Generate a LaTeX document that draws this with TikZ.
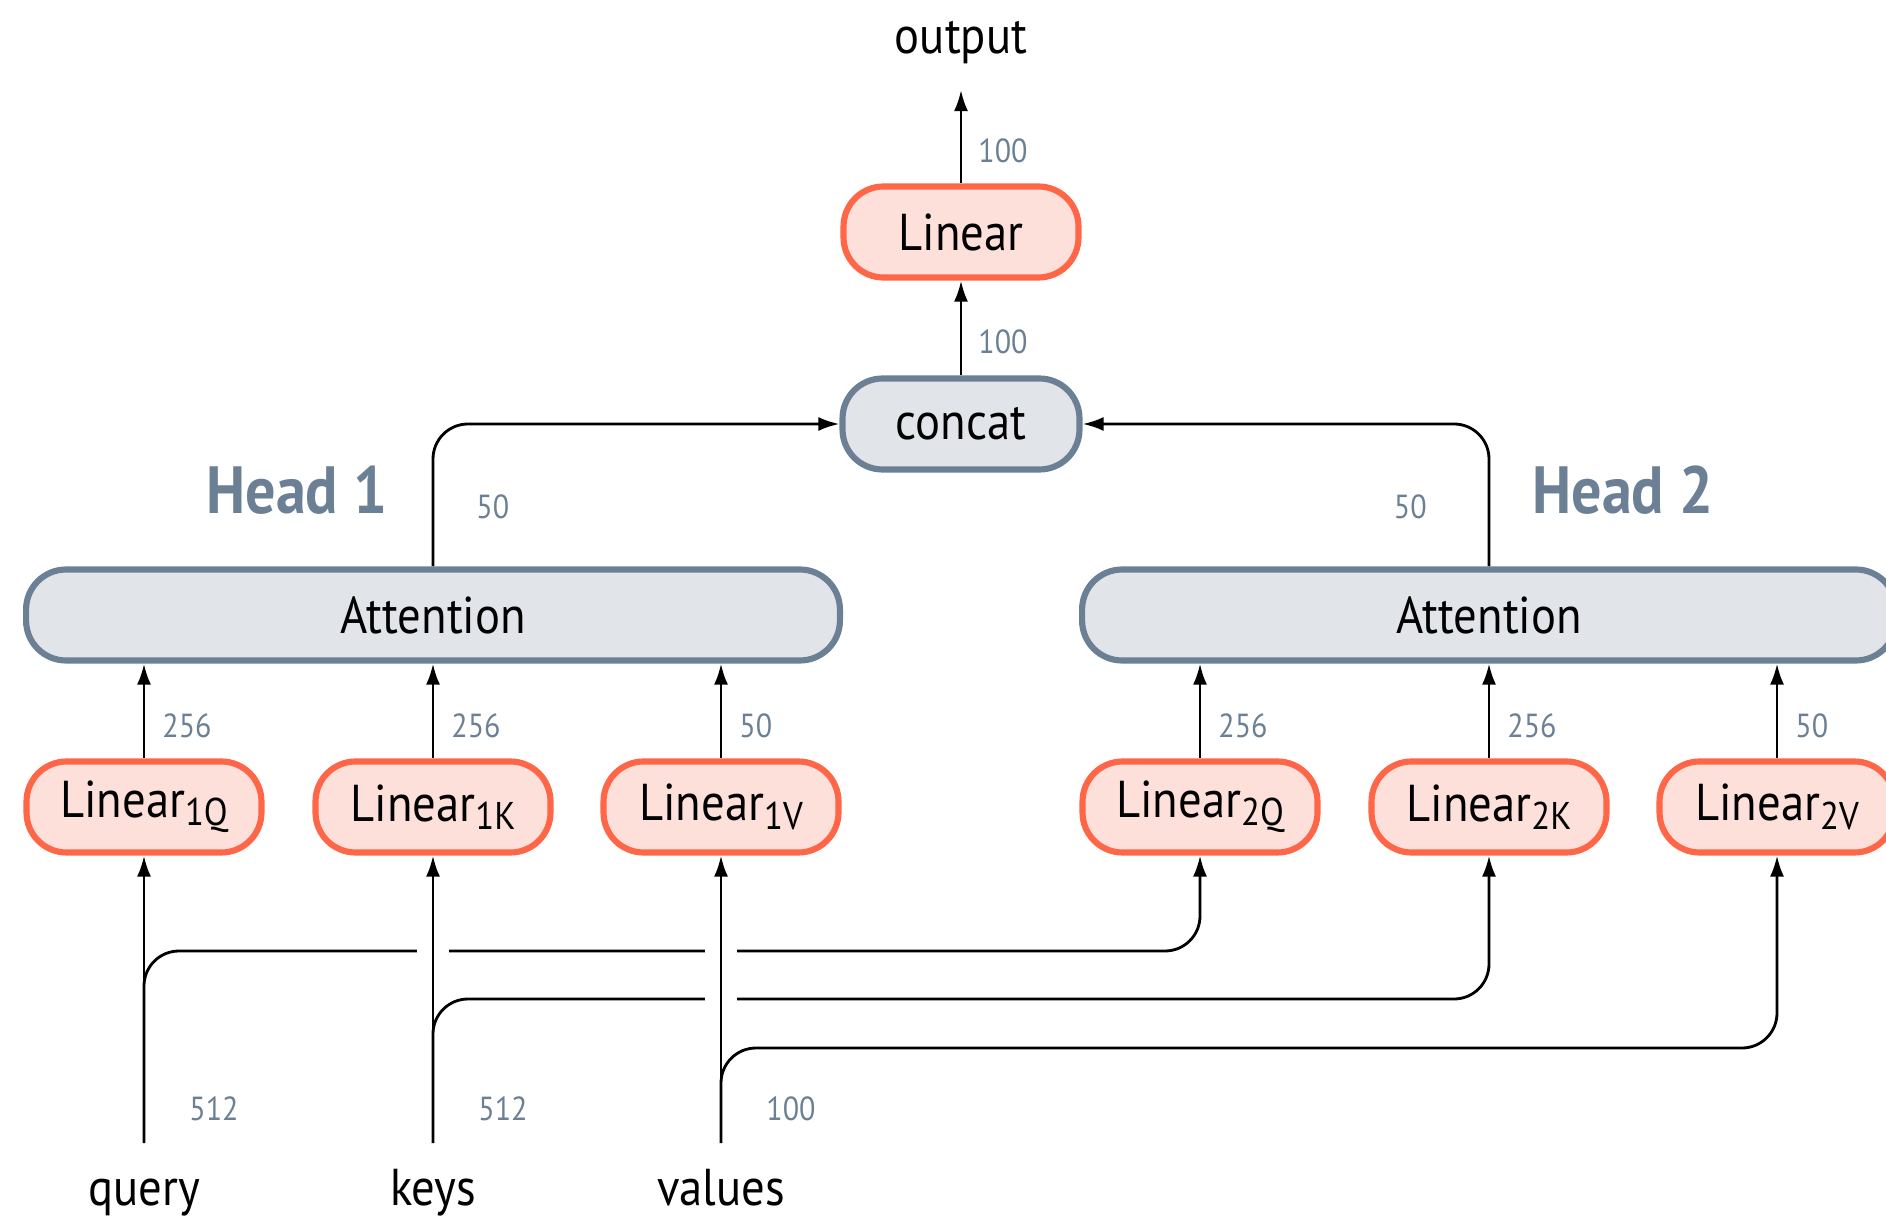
\documentclass[tikz,border=0pt]{standalone}
\usepackage{fontspec}
\setmainfont[FakeStretch=0.9]{PT Sans}
\usetikzlibrary{arrows.meta}
\usetikzlibrary{backgrounds}

\definecolor{lincol}{RGB}{255,102,72}
\definecolor{linfill}{RGB}{253,224,217}
\definecolor{slate}{RGB}{107,128,148}
\definecolor{attfill}{RGB}{225,229,234}

\newcommand{\lsub}[1]{\raisebox{-0.16em}{\fontsize{22}{22}\selectfont #1}}

\begin{document}
\begin{tikzpicture}[x=0.02cm,y=-0.02cm,
>={Latex[length=12pt,width=8pt]},
every node/.style={font=\fontsize{29.5}{30}\selectfont},
dimtxt/.style={text=slate,font=\fontsize{19}{20}\selectfont,inner sep=0pt},
headtxt/.style={text=slate,font=\fontsize{38}{40}\selectfont\bfseries}]
\tikzstyle{lin} = [draw=lincol, fill=linfill, line width=3.5pt, rounded corners=0.8cm, minimum width=4.7cm, minimum height=1.82cm, inner sep=0pt]
\tikzstyle{att} = [draw=slate, fill=attfill, line width=3.5pt, rounded corners=0.8cm, minimum width=16.28cm, minimum height=1.82cm, inner sep=0pt]
\tikzstyle{wire} = [line width=1.6pt, rounded corners=0.7cm]
\tikzstyle{hop} = [preaction={draw=white,line width=18pt,-}]

\useasboundingbox (0,0) rectangle (1886,1222);

% top part
\node[anchor=base](output) at (961,54){output};
\coordinate(outtip) at (961,90);
\node[lin](lin) at (961,232){Linear};
\node[att,minimum width=4.74cm](concat) at (961,424){concat};

\node[headtxt](head1) at (297,490){Head 1};
\node[headtxt](head2) at (1623,490){Head 2};

\node[att](att1) at (433,615){Attention};
\node[att](att2) at (1489,615){Attention};

% linear layers of both heads
\node[lin](l1q) at (144,807){Linear\lsub{1Q}};
\node[lin](l1k) at (433,807){Linear\lsub{1K}};
\node[lin](l1v) at (721,807){Linear\lsub{1V}};
\node[lin](l2q) at (1200,807){Linear\lsub{2Q}};
\node[lin](l2k) at (1489,807){Linear\lsub{2K}};
\node[lin](l2v) at (1777,807){Linear\lsub{2V}};

% inputs
\node[anchor=base](query) at (144,1205){query};
\node[anchor=base](keys) at (433,1205){keys};
\node[anchor=base](values) at (721,1205){values};
\coordinate(q0) at (144,1143);
\coordinate(k0) at (433,1143);
\coordinate(v0) at (721,1143);
\coordinate(qb) at (144,951);
\coordinate(kb) at (433,999);
\coordinate(vb) at (721,1048);

\begin{scope}[on background layer]
\draw[wire,->] (lin) -- (outtip) node[dimtxt,pos=0.35,anchor=west,xshift=0.32cm](d1){100};
\draw[wire,->] (concat) -- (lin) node[dimtxt,pos=0.35,anchor=west,xshift=0.32cm](d2){100};
\draw[wire,->] (att1.north) |- (concat.west) node[dimtxt,pos=0.21,anchor=west,xshift=0.84cm](d3){50};
\draw[wire,->] (att2.north) |- (concat.east) node[dimtxt,pos=0.21,anchor=east,xshift=-1.22cm](d4){50};

\foreach \l/\a/\d in {l1q/att1/256,l1k/att1/256,l1v/att1/50,l2q/att2/256,l2k/att2/256,l2v/att2/50}{
	\draw[wire,->] (\l) -- (\l.north |- \a.south) node[dimtxt,pos=0.34,anchor=west,xshift=0.34cm]{\d};
}

% branches to head 2, with gaps where they cross
\draw[wire,->] (q0) -- (qb) -| (l2q);
\draw[wire,->,hop] (k0) -- (l1k) node[dimtxt,pos=0.12,anchor=west,xshift=0.88cm](d5){512};
\draw[wire,->] (k0) -- (kb) -| (l2k);
\draw[wire,->,hop] (v0) -- (l1v) node[dimtxt,pos=0.12,anchor=west,xshift=0.88cm](d6){100};
\draw[wire,->] (v0) -- (vb) -| (l2v);
\draw[wire,->] (q0) -- (l1q) node[dimtxt,pos=0.12,anchor=west,xshift=0.88cm](d7){512};
\end{scope}

\end{tikzpicture}
\end{document}
